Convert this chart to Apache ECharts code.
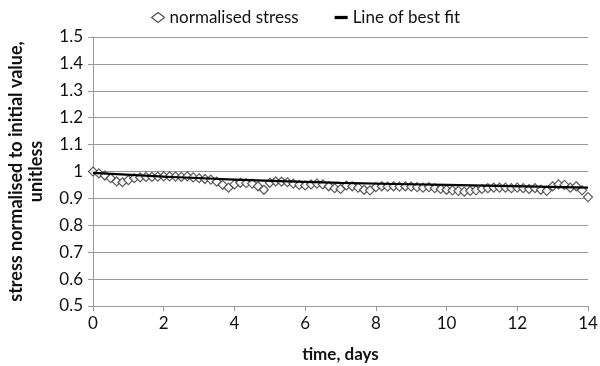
<!DOCTYPE html>
<html>
<head>
<meta charset="utf-8">
<script src="https://cdn.jsdelivr.net/npm/echarts@6/dist/echarts.min.js"></script>
<style>
html,body{margin:0;padding:0;background:#fff;}
#chart{width:600px;height:366px;}
</style>
</head>
<body>
<div id="chart"></div>
<script>
// Sampling every 4 hours (1/6 day) over 14 days
const stepDays = 1 / 6;
const normalisedStress = [
  1.000, 0.993, 0.985, 0.975, 0.963, 0.960, 0.968, 0.975, 0.978, 0.980,
  0.980, 0.981, 0.982, 0.982, 0.981, 0.980, 0.982, 0.978, 0.975, 0.972,
  0.970, 0.962, 0.950, 0.940, 0.952, 0.958, 0.957, 0.955, 0.945, 0.932,
  0.958, 0.963, 0.962, 0.960, 0.955, 0.950, 0.948, 0.952, 0.955, 0.952,
  0.945, 0.938, 0.935, 0.948, 0.945, 0.940, 0.932, 0.930, 0.942, 0.945,
  0.944, 0.945, 0.944, 0.945, 0.944, 0.942, 0.940, 0.942, 0.938, 0.935,
  0.932, 0.930, 0.928, 0.925, 0.928, 0.930, 0.935, 0.938, 0.940, 0.940,
  0.940, 0.938, 0.940, 0.938, 0.935, 0.938, 0.932, 0.928, 0.945, 0.952,
  0.950, 0.940, 0.945, 0.930, 0.905
];
// Fitted trend line
const fitDays = [0, 2, 4, 7, 10, 14];
const fitValues = [0.995, 0.981, 0.970, 0.958, 0.950, 0.940];

const xTicks = [0, 2, 4, 6, 8, 10, 12, 14];
const yTicks = [0.5, 0.6, 0.7, 0.8, 0.9, 1, 1.1, 1.2, 1.3, 1.4, 1.5];

const stressPoints = normalisedStress.map((v, i) => [i * stepDays, v]);
const fitPoints = fitDays.map((d, i) => [d, fitValues[i]]);

const font = 'Lato, "Open Sans", sans-serif';
const chart = echarts.init(document.getElementById('chart'));
chart.setOption({
  animation: false,
  backgroundColor: '#fff',
  textStyle: { fontFamily: font },
  legend: {
    top: 4,
    left: 146,
    itemGap: 36,
    itemWidth: 13,
    itemHeight: 10,
    textStyle: { fontFamily: font, fontSize: 17, color: '#111' },
    data: [
      { name: 'normalised stress', icon: 'diamond', itemStyle: { color: '#fff', borderColor: '#222', borderWidth: 1.2 } },
      { name: 'Line of best fit', icon: 'path://M0,0 L16,0 L16,4 L0,4 Z', itemStyle: { color: '#000' } }
    ]
  },
  grid: { left: 93, right: 12, top: 37, bottom: 60, outerBoundsMode: 'none' },
  xAxis: {
    type: 'value',
    min: xTicks[0],
    max: xTicks[xTicks.length - 1],
    interval: 2,
    name: 'time, days',
    nameLocation: 'middle',
    nameGap: 40,
    nameTextStyle: { fontFamily: font, fontSize: 17, fontWeight: 'bold', color: '#111' },
    axisLine: { lineStyle: { color: '#999' } },
    axisTick: { show: true, length: 5, lineStyle: { color: '#999' } },
    axisLabel: { fontSize: 17, color: '#111', margin: 9 },
    splitLine: { show: false }
  },
  yAxis: {
    type: 'value',
    min: yTicks[0],
    max: yTicks[yTicks.length - 1],
    interval: 0.1,
    name: 'stress normalised to initial value,\nunitless',
    nameLocation: 'middle',
    nameGap: 47,
    nameTextStyle: { fontFamily: font, fontSize: 18, fontWeight: 'bold', color: '#111', lineHeight: 20 },
    axisLine: { show: true, lineStyle: { color: '#999' } },
    axisTick: { show: true, length: 5, lineStyle: { color: '#999' } },
    axisLabel: {
      fontSize: 17, color: '#111', margin: 10,
      formatter: v => String(Math.round(v * 10) / 10)
    },
    splitLine: { show: true, lineStyle: { color: '#999', width: 1 } }
  },
  series: [
    {
      name: 'normalised stress',
      type: 'scatter',
      data: stressPoints,
      symbol: 'diamond',
      symbolSize: 9,
      itemStyle: { color: '#fff', borderColor: '#333', borderWidth: 1.2 },
      z: 2
    },
    {
      name: 'Line of best fit',
      type: 'line',
      data: fitPoints,
      smooth: true,
      showSymbol: false,
      lineStyle: { color: '#000', width: 2.2 },
      z: 3
    }
  ]
});
</script>
</body>
</html>
